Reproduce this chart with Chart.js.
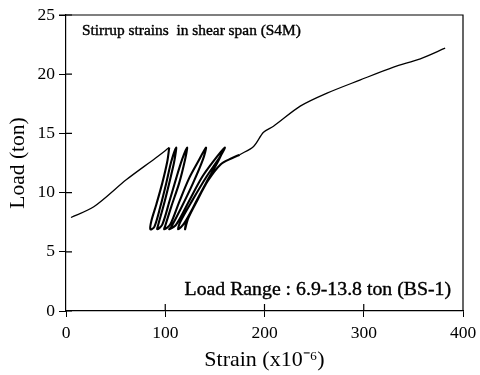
<!DOCTYPE html>
<html><head><meta charset="utf-8">
<script src="https://cdn.jsdelivr.net/npm/chart.js@4/dist/chart.umd.min.js"></script>
<style>html,body{margin:0;background:#fff}#wrap{width:480px;height:375px}</style>
</head><body><div id="wrap"><canvas id="c"></canvas></div>
<script>
// monotonic loading up to the first cycle peak
const initStrain = [5, 28, 61, 90, 104];
const initLoad = [7.9, 8.8, 11.1, 12.9, 13.8];
// repeated load cycles between 6.9 and 13.8 ton
const cycleStrain = [104, 102, 97, 91, 86, 85, 89, 95, 101, 106, 111,
  109, 104, 98, 93, 92, 97, 104, 111, 117, 122,
  120, 114, 106, 100, 99, 105, 114, 124, 133, 141,
  138, 128, 116, 106, 104, 111, 124, 137, 149, 160,
  155, 142, 127, 115, 113, 119, 131, 144, 152, 158,
  153, 141, 129, 121, 120, 123, 132, 143, 156, 167, 175];
const cycleLoad = [13.8, 12.6, 10.8, 9.0, 7.6, 6.9, 7.1, 8.8, 10.8, 12.6, 13.8,
  12.6, 10.8, 8.8, 7.3, 6.9, 7.3, 9.2, 11.2, 12.8, 13.8,
  12.8, 10.8, 8.8, 7.2, 6.9, 7.3, 9.2, 11.2, 12.6, 13.8,
  12.8, 10.8, 8.7, 7.1, 6.9, 7.3, 9.3, 11.3, 12.7, 13.8,
  13.0, 11.4, 9.3, 7.5, 6.9, 7.4, 9.2, 11.2, 12.5, 13.5,
  12.6, 10.8, 8.9, 7.4, 6.9, 7.8, 9.3, 11.0, 12.4, 12.9, 13.2];
// loading beyond the cycle range
const finalStrain = [175, 189, 199, 209, 236, 263, 296, 330, 357, 382];
const finalLoad = [13.2, 13.9, 15.1, 15.6, 17.3, 18.4, 19.5, 20.6, 21.3, 22.2];
const xTicks = [0, 100, 200, 300, 400];
const yTicks = [0, 5, 10, 15, 20, 25];

const pts = (xs, ys) => xs.map((x, i) => ({ x, y: ys[i] }));
const serif = '"Liberation Serif", "Times New Roman", serif';

// box frame, ticks crossing into the plot, and the two notes
const frame = {
  id: 'frame',
  afterDraw(c) {
    const { ctx, chartArea: a, scales: { x, y } } = c;
    ctx.save();
    ctx.strokeStyle = '#000'; ctx.lineWidth = 1.2;
    ctx.beginPath();
    ctx.moveTo(a.left - 7, a.top); ctx.lineTo(a.right, a.top); ctx.lineTo(a.right, a.bottom);
    ctx.stroke();
    ctx.beginPath();
    yTicks.forEach(v => { const p = y.getPixelForValue(v); ctx.moveTo(a.left, p); ctx.lineTo(a.left + 6, p); });
    xTicks.slice(1, -1).forEach(v => { const p = x.getPixelForValue(v); ctx.moveTo(p, a.bottom); ctx.lineTo(p, a.bottom - 7); });
    ctx.stroke();
    ctx.fillStyle = '#000'; ctx.lineWidth = 0.4;
    ctx.textBaseline = 'alphabetic';
    ctx.textAlign = 'left';
    ctx.font = '15.4px ' + serif;
    const t1 = 'Stirrup strains  in shear span (S4M)';
    ctx.fillText(t1, a.left + 16, a.top + 20);
    ctx.strokeText(t1, a.left + 16, a.top + 20);
    ctx.font = '19.8px ' + serif;
    ctx.textAlign = 'right';
    const t2 = 'Load Range : 6.9-13.8 ton (BS-1)';
    ctx.fillText(t2, a.right - 12, a.bottom - 16);
    ctx.strokeText(t2, a.right - 12, a.bottom - 16);
    ctx.restore();
  }
};

new Chart(document.getElementById('c'), {
  type: 'scatter',
  data: {
    datasets: [
      { data: pts(initStrain, initLoad), borderWidth: 1.3 },
      { data: pts(cycleStrain, cycleLoad), borderWidth: 2.1 },
      { data: pts(finalStrain, finalLoad), borderWidth: 1.3 },
    ].map(d => Object.assign(d, { showLine: true, borderColor: '#000', pointRadius: 0, tension: 0.3, fill: false }))
  },
  options: {
    animation: false, responsive: true, maintainAspectRatio: false,
    layout: { padding: { top: 15, right: 17, left: 0, bottom: 0 } },
    plugins: { legend: { display: false }, tooltip: { enabled: false } },
    scales: {
      x: {
        type: 'linear', min: 0, max: 400,
        afterBuildTicks: s => { s.ticks = xTicks.map(v => ({ value: v })); },
        afterFit: s => { s.height = 64; s.paddingLeft = 0; s.paddingRight = 0; },
        grid: { drawOnChartArea: false, tickLength: 6, color: '#000' },
        border: { color: '#000', width: 1.2 },
        ticks: { color: '#000', font: { family: serif, size: 17.5 }, padding: 6, maxRotation: 0 },
        title: { display: true, text: 'Strain (x10\u207B\u2076)', color: '#000', font: { family: serif, size: 22 }, padding: { top: 0, bottom: 2 } }
      },
      y: {
        min: 0, max: 25,
        afterBuildTicks: s => { s.ticks = yTicks.map(v => ({ value: v })); },
        afterFit: s => { s.width = 66; s.paddingTop = 0; s.paddingBottom = 0; },
        grid: { drawOnChartArea: false, tickLength: 7, color: '#000' },
        border: { color: '#000', width: 1.2 },
        ticks: { color: '#000', font: { family: serif, size: 17.5 }, padding: 4 },
        title: { display: true, text: 'Load (ton)', color: '#000', font: { family: serif, size: 21.5 }, padding: { top: 5, bottom: 0 } }
      }
    }
  },
  plugins: [frame]
});
</script></body></html>
